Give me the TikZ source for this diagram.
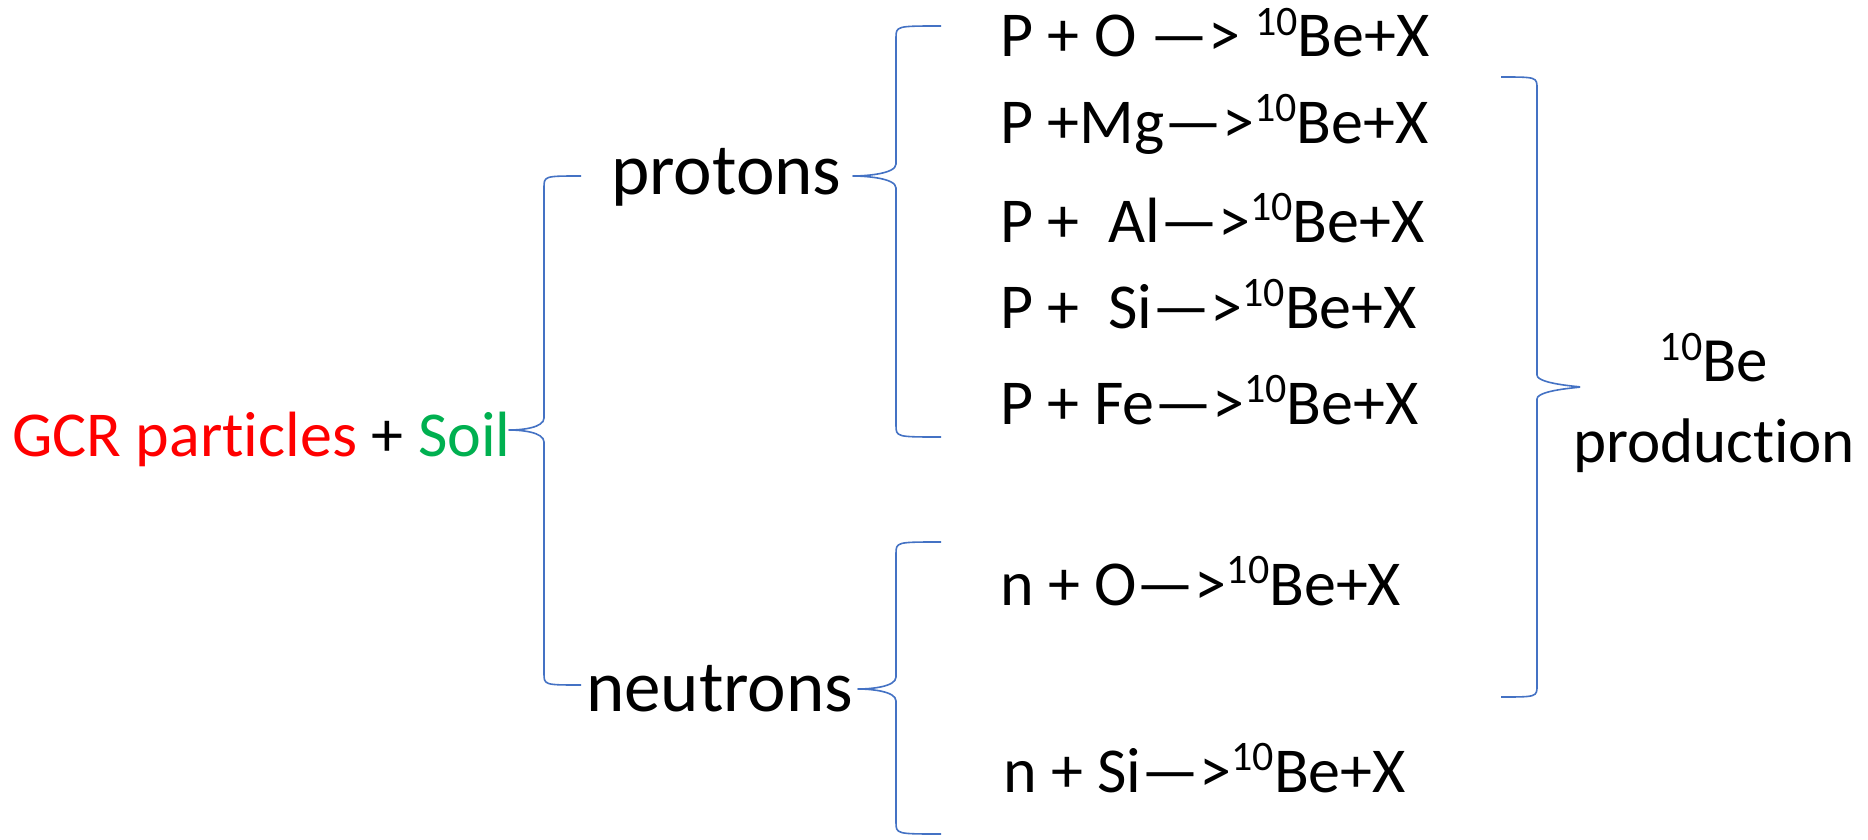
\documentclass[tikz,border=0pt]{standalone}
\usepackage{fontspec}
\setmainfont{Carlito}[Ligatures=NoCommon]
\definecolor{gcrred}{RGB}{255,0,0}
\definecolor{soilgreen}{RGB}{0,176,80}
\definecolor{braceblue}{RGB}{68,114,196}
\newcommand\iso{\raisebox{0.33em}{\fontsize{42}{42}\selectfont 10}}
% #1 end x, #2 spine x, #3 tip x, #4 top y, #5 tip y, #6 bottom y
\newcommand\brc[6]{%
  \draw[bracestyle] (#1,#4) .. controls (#2,#4) .. (#2,#4+12) -- (#2,#5-12)
    .. controls (#2,#5-2) and (#3+12,#5) .. (#3,#5)
    .. controls (#3+12,#5) and (#2,#5+2) .. (#2,#5+12) -- (#2,#6-12)
    .. controls (#2,#6) .. (#1,#6);}
\tikzset{
  bracestyle/.style={draw=braceblue, line width=1.6pt, line join=round},
  rx/.style={anchor=base west, inner sep=0pt, font=\fontsize{64}{70}\selectfont},
  big/.style={anchor=base west, inner sep=0pt, font=\fontsize{73}{80}\selectfont},
  res/.style={anchor=base, inner sep=0pt, font=\fontsize{63}{70}\selectfont},
}
\begin{document}
\begin{tikzpicture}[x=1pt,y=-1pt]
\useasboundingbox[fill=white] (0,0) rectangle (1868,840);
\node[rx] (src) at (12,456) {\textcolor{gcrred}{GCR particles} + \textcolor{soilgreen}{Soil}};
\node[big] (prot) at (611,194) {protons};
\node[big] (neut) at (586,711) {neutrons};
\node[rx] (r1) at (1000,57) {P + O —> \iso Be+X};
\node[rx] (r2) at (1000,143) {P +Mg—>\iso Be+X};
\node[rx] (r3) at (1000,242) {P + \ Al—>\iso Be+X};
\node[rx] (r4) at (1000,328) {P + \ Si—>\iso Be+X};
\node[rx] (r5) at (1000,424) {P + Fe—>\iso Be+X};
\node[rx] (r6) at (1000,605) {n + O—>\iso Be+X};
\node[rx] (r7) at (1003,792) {n + Si—>\iso Be+X};
\node[res] (be) at (1714,381) {\iso Be};
\node[res] (prod) at (1714,462) {production};
\brc{581}{544}{509}{176}{430}{685}
\brc{941}{896}{853}{26}{176}{437}
\brc{941}{896}{858}{542}{689}{834}
\brc{1501}{1537}{1578}{77}{387}{697}
\end{tikzpicture}
\end{document}
